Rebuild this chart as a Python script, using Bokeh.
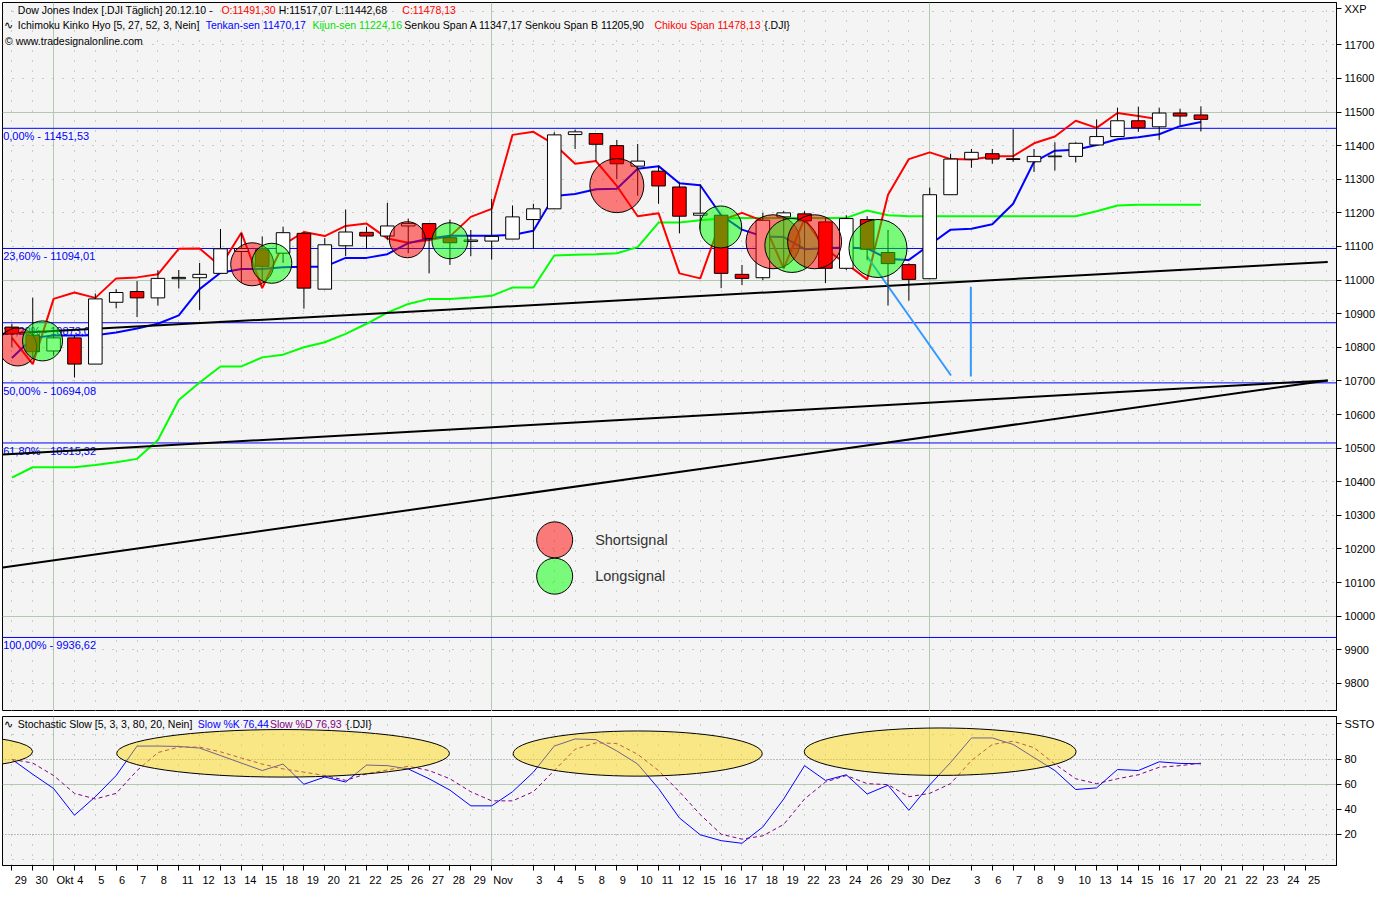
from bokeh.plotting import figure
from bokeh.models import Range1d, FixedTicker, PrintfTickFormatter, Label, Grid
from bokeh.layouts import column
from bokeh.embed import file_html
from bokeh.resources import INLINE
from bokeh.core.properties import value

# ---------------- data ----------------
bar_labels = ["29", "30", "Okt", "4", "5", "6", "7", "8", "11", "12", "13", "14", "15", "18", "19",
              "20", "21", "22", "25", "26", "27", "28", "29", "Nov", "", "3", "4", "5", "8", "9",
              "10", "11", "12", "15", "16", "17", "18", "19", "22", "23", "24", "26", "29", "30",
              "Dez", "", "3", "6", "7", "8", "9", "10", "13", "14", "15", "16", "17", "20", "21",
              "22", "23", "24", "25"]
month_bars = [2, 23, 44]

opens = [10860, 10836, 10789, 10828, 10750, 10934, 10966, 10947, 11004, 11007,
         11020, 11085, 11090, 11080, 11139, 10973, 11102, 11142, 11131, 11161,
         11168, 11126, 11115, 11116, 11122, 11180, 11212, 11433, 11436, 11400,
         11339, 11324, 11277, 11193, 11193, 11017, 11007, 11188, 11197, 11173,
         11035, 11180, 11082, 11046, 11004, 11254, 11360, 11376, 11361, 11352,
         11367, 11368, 11402, 11427, 11474, 11456, 11497, 11491.30]
highs = [10870, 10948, 10840, 10835, 10960, 10973, 10997, 11029, 11030, 11051,
         11152, 11139, 11130, 11159, 11142, 11125, 11210, 11159, 11230, 11183,
         11170, 11180, 11149, 11241, 11222, 11227, 11440, 11448, 11436, 11417,
         11405, 11340, 11290, 11285, 11193, 11045, 11200, 11205, 11205, 11185,
         11193, 11190, 11149, 11050, 11275, 11376, 11390, 11390, 11449, 11390,
         11410, 11410, 11478, 11513, 11516, 11513, 11510, 11517.07]
lows = [10800, 10770, 10775, 10710, 10750, 10916, 10890, 10924, 10975, 10911,
        11020, 10992, 11000, 11051, 10915, 10973, 11071, 11094, 11120, 11080,
        11020, 11045, 11071, 11061, 11122, 11093, 11212, 11390, 11354, 11300,
        11251, 11227, 11139, 11150, 10976, 10985, 11000, 11036, 11036, 10991,
        11030, 11060, 10924, 10939, 11004, 11254, 11334, 11346, 11352, 11322,
        11326, 11350, 11402, 11427, 11441, 11417, 11461, 11442.68]
closes = [10840, 10787, 10828, 10750, 10944, 10963, 10947, 11005, 11008, 11017,
          11093, 11094, 11041, 11141, 10976, 11105, 11143, 11131, 11161, 11168,
          11124, 11111, 11119, 11130, 11188, 11212, 11432, 11441, 11404, 11346,
          11354, 11280, 11190, 11199, 11020, 11005, 11178, 11200, 11176, 11035,
          11183, 11092, 11049, 11002, 11254, 11360, 11380, 11360, 11359, 11368,
          11369, 11407, 11427, 11474, 11453, 11497, 11488, 11478.13]

tenkan = [10768, 10828, 10835, 10835, 10836, 10844, 10856, 10870, 10895, 10973,
          11022, 11033, 11033, 11038, 11040, 11040, 11066, 11066, 11077, 11110,
          11124, 11132, 11132, 11132, 11134, 11147, 11250, 11256, 11270, 11272,
          11331, 11339, 11288, 11282, 11193, 11150, 11130, 11128, 11092, 11095,
          11097, 11094, 11063, 11060, 11105, 11150, 11153, 11166, 11227, 11352,
          11385, 11388, 11402, 11419, 11425, 11434, 11458, 11470.17]
kijun = [10412, 10443, 10443, 10443, 10450, 10458, 10468, 10524, 10643, 10695,
         10743, 10743, 10770, 10778, 10800, 10815, 10840, 10870, 10903, 10929,
         10944, 10944, 10948, 10953, 10978, 10978, 11073, 11075, 11077, 11080,
         11098, 11171, 11171, 11178, 11183, 11185, 11185, 11185, 11185, 11185,
         11185, 11207, 11193, 11190, 11190, 11190, 11190, 11190, 11190, 11190,
         11190, 11190, 11205, 11222, 11224, 11224, 11224, 11224.16]
chikou = [10828, 10750, 10944, 10963, 10947, 11005, 11008, 11017, 11093, 11094,
          11041, 11141, 10976, 11105, 11143, 11131, 11161, 11168, 11124, 11111,
          11119, 11130, 11188, 11212, 11432, 11441, 11404, 11346, 11354, 11280,
          11190, 11199, 11020, 11005, 11178, 11200, 11176, 11035, 11183, 11092,
          11049, 11002, 11254, 11360, 11380, 11360, 11359, 11368, 11369, 11407,
          11427, 11474, 11453, 11497, 11488, 11478.13]

slow_k = [80, 68, 56.6, 35.2, 50, 67, 90.6, 90.6, 90.3, 89,
          83, 77, 71, 76.2, 60, 65.8, 61.8, 75.4, 74.9, 72.3,
          64.4, 55.3, 42.7, 42.7, 54, 69.7, 90.6, 96.3, 95.8, 86.7,
          76.2, 56.6, 33, 19.5, 14.8, 12.7, 25.8, 48.2, 74.9, 63.1,
          67.6, 52.2, 59.2, 39.1, 59.5, 77.5, 97.1, 97.1, 91.9, 81.4,
          71, 55.8, 57.1, 71.8, 71, 78, 76.7, 76.44]
slow_d = [80, 77, 67, 52.7, 48.2, 52.7, 71, 85.4, 89.8, 89.8,
          86, 81, 76.2, 72.3, 69.7, 67, 63.1, 68.4, 71.5, 74.4,
          71, 64.4, 54, 46.7, 46.7, 54, 71, 88, 93.2, 92.7,
          84, 71, 54, 35.7, 20, 16, 18.7, 27.8, 48.2, 61.8,
          67, 60.5, 59.7, 50, 52.7, 60.5, 79, 91.9, 94.5, 89.3,
          76.2, 64.4, 60.5, 64.4, 67.6, 73.6, 74.9, 76.93]

fib_levels = [11451.53, 11094.01, 10873.03, 10694.08, 10515.32, 9936.62]
fib_labels = ["0,00% - 11451,53", "23,60% - 11094,01", "38,20% - 10873,03",
              "50,00% - 10694,08", "61,80% - 10515,32", "100,00% - 9936,62"]

trend_x = [[-0.43, 63.08], [-0.43, 63.08], [-0.43, 63.08]]
trend_y = [[10840, 11054], [10481, 10701.5], [10145, 10701.5]]
proj_x = [[41.0, 45.02], [45.97, 45.97]]
proj_y = [[11070, 10716], [10980, 10713]]

short_x = [0.28, 11.52, 18.96, 29.0, 36.49, 38.48]
short_y = [10801, 11047, 11120, 11281, 11114, 11114]
long_x = [1.47, 12.46, 21.0, 33.98, 37.39, 41.52]
long_y = [10819, 11050, 11117, 11158, 11103, 11094]

legend_x = [26.02, 26.02]
legend_y = [10227, 10119]
legend_text = ["Shortsignal", "Longsignal"]

ell_x = [-2.75, 13.0, 30.0, 44.5]
ell_y = [86.2, 84.8, 84.6, 86.1]
ell_w = [7.49, 15.95, 11.94, 13.03]
ell_h = [25.2, 38.1, 36.2, 38.0]

main_ticks = list(range(9800, 11701, 100))
stoch_ticks = [20, 40, 60, 80]

# ---------------- styles / layout ----------------
FONT = "Liberation Sans"
HFS = "10.5px"
FW, FH1, FH2 = 1334, 709, 149
BG = "#F4F4F4"
SOLID = "#B4C8B4"
DOT = "#98AE98"
short_sizes = [38, 43, 36, 54, 54, 54]
long_sizes = [40, 40, 36, 42, 54, 58]

XR = Range1d(-0.45, 63.5)
n = len(closes)
bars = list(range(n))


def make_fig(fh, yr, top, xaxis):
    p = figure(frame_width=FW, frame_height=fh, x_range=XR, y_range=yr,
               output_backend="svg", toolbar_location=None,
               y_axis_location="right", x_axis_location="below" if xaxis else None,
               min_border_left=2, min_border_right=44, min_border_top=top,
               min_border_bottom=0, background_fill_color=BG,
               border_fill_color="white", outline_line_color="black",
               outline_line_width=1)
    p.xgrid.visible = False
    p.ygrid.visible = False
    dot_slots = [s for s in range(0, 64) if s not in month_bars]
    p.add_layout(Grid(dimension=0, ticker=FixedTicker(ticks=dot_slots),
                      grid_line_color=DOT, grid_line_dash="1 9"))
    p.add_layout(Grid(dimension=0, ticker=FixedTicker(ticks=month_bars),
                      grid_line_color=SOLID))
    ax = p.yaxis[0]
    ax.axis_line_color = "black"
    ax.major_tick_out = 5
    ax.major_tick_in = 0
    ax.minor_tick_line_color = None
    ax.major_label_text_font = FONT
    ax.major_label_text_font_size = "11px"
    ax.major_label_standoff = 3
    ax.major_label_text_color = "black"
    return p


def lab(p, x, y, text, color, size=HFS):
    p.add_layout(Label(x=x, y=y, x_units="screen", y_units="screen", text=text,
                       text_color=color, text_font=FONT, text_font_size=size,
                       text_baseline="middle", text_align="left"))


SX = FW / 1349.5


def sx(rx):
    return (rx - 2.5) * SX


def sy1(ry):
    return FH1 - (ry - 2.0) * FH1 / 720.5


def sy2(ry):
    return FH2 - (ry - 728.3) * FH2 / 151.7


# ---------------- main panel ----------------
p1 = make_fig(FH1, Range1d(9716.3, 11825.9), 2, False)
hund = [v for v in range(9700, 11900, 100) if v % 500]
p1.add_layout(Grid(dimension=1, ticker=FixedTicker(ticks=hund),
                   grid_line_color=DOT, grid_line_dash="1 9"))
p1.add_layout(Grid(dimension=1, ticker=FixedTicker(ticks=[10000, 10500, 11000, 11500]),
                   grid_line_color=SOLID))
# axis title "XXP" placed as a labelled tick at the top edge
xxp_at = 11808
p1.yaxis.ticker = FixedTicker(ticks=main_ticks + [xxp_at])
p1.yaxis.formatter = PrintfTickFormatter(format="%d")
p1.yaxis.major_label_overrides = {xxp_at: "XXP"}

p1.segment(x0=[XR.start] * len(fib_levels), y0=fib_levels,
           x1=[XR.end] * len(fib_levels), y1=fib_levels,
           line_color="#0000FF", line_width=1)
p1.text(x=[-0.42] * len(fib_levels), y=fib_levels, text=fib_labels,
        text_font=value(FONT), text_font_size="11px", text_color="#0000FF",
        text_baseline="top", y_offset=2)

p1.line(bars, kijun, line_color="#00FF00", line_width=2)
p1.line(bars[:len(chikou)], chikou, line_color="#FF0000", line_width=2)
p1.line(bars, tenkan, line_color="#0000FF", line_width=2)
p1.multi_line(trend_x, trend_y, line_color="black", line_width=2)
p1.multi_line(proj_x, proj_y, line_color="#3399FF", line_width=2)

body_top = [max(o, c) for o, c in zip(opens, closes)]
body_bot = [min(o, c) for o, c in zip(opens, closes)]
body_col = ["white" if c >= o else "#FF0000" for o, c in zip(opens, closes)]
p1.segment(x0=bars, y0=highs, x1=bars, y1=lows, line_color="black", line_width=1)
p1.vbar(x=bars, width=0.65, top=body_top, bottom=body_bot, fill_color=body_col,
        line_color="black", line_width=1)

sig_x, sig_y, sig_c, sig_s = [], [], [], []
for k in range(len(short_x)):
    sig_x += [short_x[k], long_x[k]]
    sig_y += [short_y[k], long_y[k]]
    sig_c += ["#FF0000", "#00FF00"]
    sig_s += [short_sizes[k], long_sizes[k]]
p1.scatter(sig_x, sig_y, size=sig_s, marker="circle", fill_color=sig_c,
           fill_alpha=0.5, line_color="black", line_width=1)

p1.scatter(legend_x, legend_y, size=36, marker="circle",
           fill_color=["#FF0000", "#00FF00"], fill_alpha=0.5,
           line_color="black", line_width=1)
p1.text(x=[x + 1.94 for x in legend_x], y=legend_y, text=legend_text,
        text_font=value(FONT), text_font_size="14.5px", text_color="#333333",
        text_baseline="middle")

# header texts
y1, y2, y3 = sy1(10), sy1(25), sy1(41)
lab(p1, sx(18), y1, "Dow Jones Index [.DJI  Täglich] 20.12.10 -", "black")
lab(p1, sx(224), y1, "O:11491,30", "#FF0000")
lab(p1, sx(282), y1, "H:11517,07 L:11442,68", "black")
lab(p1, sx(407), y1, "C:11478,13", "#FF0000")
lab(p1, sx(4), y2, "∿", "black")
lab(p1, sx(18), y2, "Ichimoku Kinko Hyo [5, 27, 52, 3, Nein]", "black")
lab(p1, sx(208), y2, "Tenkan-sen 11470,17", "#0000FF")
lab(p1, sx(316), y2, "Kijun-sen 11224,16", "#00E000")
lab(p1, sx(409), y2, "Senkou Span A 11347,17 Senkou Span B 11205,90", "black")
lab(p1, sx(662), y2, "Chikou Span 11478,13", "#FF0000")
lab(p1, sx(773), y2, "{.DJI}", "black")
lab(p1, sx(5), y3, "© www.tradesignalonline.com", "black")

# ---------------- stochastic panel ----------------
p2 = make_fig(FH2, Range1d(-5.1, 114.3), 5, True)
p2.add_layout(Grid(dimension=1, ticker=FixedTicker(ticks=[0, 40, 100]),
                   grid_line_color=DOT, grid_line_dash="1 9"))
p2.add_layout(Grid(dimension=1, ticker=FixedTicker(ticks=[20, 80]),
                   grid_line_color="#8A8A8A", grid_line_dash="1 2"))
p2.add_layout(Grid(dimension=1, ticker=FixedTicker(ticks=[60]),
                   grid_line_color=SOLID))
ssto_at = 108.3
p2.yaxis.ticker = FixedTicker(ticks=stoch_ticks + [ssto_at])
p2.yaxis.major_label_overrides = {ssto_at: "SSTO"}

p2.line(bars, slow_k, line_color="#0000FF", line_width=1)
p2.line(bars, slow_d, line_color="#800080", line_width=1, line_dash="4 3")
p2.ellipse(x=ell_x, y=ell_y, width=ell_w, height=ell_h, fill_color="#FFD700",
           fill_alpha=0.45, line_color="black", line_width=1)

ys = sy2(736)
lab(p2, sx(4), ys, "∿", "black")
lab(p2, sx(18), ys, "Stochastic Slow [5, 3, 3, 80, 20, Nein]", "black")
lab(p2, sx(200), ys, "Slow %K 76,44", "#0000FF")
lab(p2, sx(273), ys, "Slow %D 76,93", "#800080")
lab(p2, sx(350), ys, "{.DJI}", "black")

lab_pos = [i for i, s in enumerate(bar_labels) if s]
major = []
overrides = {}
for i in lab_pos:
    s = bar_labels[i]
    w = 17 if s.isalpha() else 6 * len(s)
    t = round(i + (3 + w / 2) / 21.1, 3)
    major.append(t)
    overrides[t] = s
xa = p2.xaxis[0]
xa.ticker = FixedTicker(ticks=major, minor_ticks=lab_pos)
xa.major_label_overrides = overrides
xa.major_tick_line_color = None
xa.major_tick_out = 0
xa.major_tick_in = 0
xa.minor_tick_out = 5
xa.minor_tick_in = 0
xa.minor_tick_line_color = "black"
xa.axis_line_color = "black"
xa.major_label_standoff = 3
xa.major_label_text_font = FONT
xa.major_label_text_font_size = "11px"
xa.major_label_text_color = "black"

layout = column(p1, p2)
open("out.html", "w").write(file_html(layout, INLINE))
